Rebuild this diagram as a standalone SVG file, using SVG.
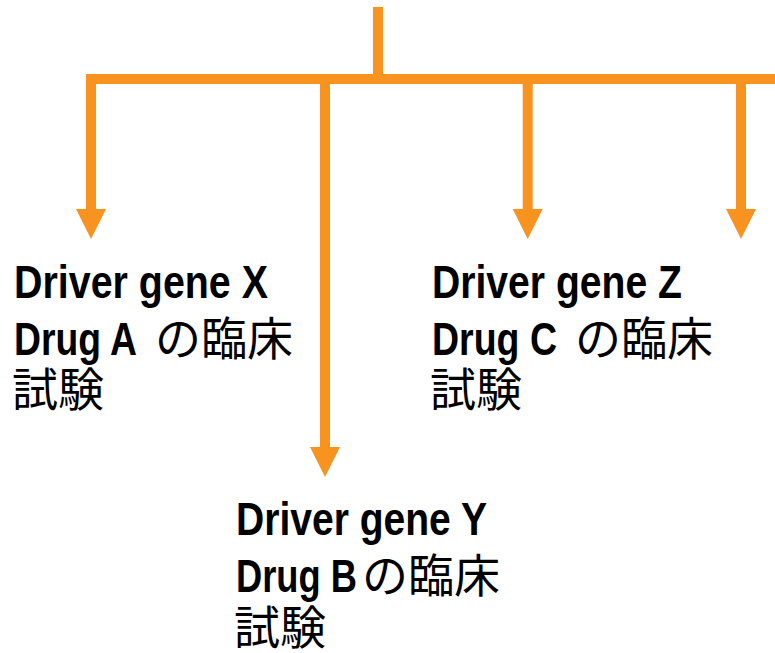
<svg xmlns="http://www.w3.org/2000/svg" width="775" height="653" viewBox="0 0 775 653">
<defs>
<style>
.conn{stroke:#F7931E;stroke-width:10;fill:none;stroke-linecap:butt}
.lat{font-family:"Liberation Sans","Arial",sans-serif;font-weight:bold;font-size:47px;fill:#000}
.cjk{font-family:"Noto Sans CJK JP","Noto Sans CJK SC",sans-serif;font-weight:normal;font-size:46px;fill:#000}
</style>
<marker id="ah" viewBox="0 0 30 30" markerWidth="30" markerHeight="30" refX="0" refY="15" orient="auto" markerUnits="userSpaceOnUse">
<path d="M0,0 L30,15 L0,30 Z" fill="#F7931E"/>
</marker>
</defs>
<rect width="775" height="653" fill="#fff"/>
<g id="connectors">
<path class="conn" d="M378,7 V79"/>
<path class="conn" d="M86,79 H775"/>
<path class="conn" d="M91,79 V209" marker-end="url(#ah)"/>
<path class="conn" d="M325,84 V447" marker-end="url(#ah)"/>
<path class="conn" d="M527.7,84 V209" marker-end="url(#ah)"/>
<path class="conn" d="M741,84 V209" marker-end="url(#ah)"/>
</g>
<g id="node-x">
<text class="lat" x="14" y="298" textLength="254" lengthAdjust="spacingAndGlyphs">Driver gene X</text>
<text class="lat" x="14" y="355" textLength="123" lengthAdjust="spacingAndGlyphs">Drug A</text>
<text class="cjk" x="155" y="355">の臨床</text>
<text class="cjk" x="12" y="406">試験</text>
</g>
<g id="node-z">
<text class="lat" x="432" y="298" textLength="250" lengthAdjust="spacingAndGlyphs">Driver gene Z</text>
<text class="lat" x="432" y="355" textLength="125" lengthAdjust="spacingAndGlyphs">Drug C</text>
<text class="cjk" x="575" y="355">の臨床</text>
<text class="cjk" x="430" y="406">試験</text>
</g>
<g id="node-y">
<text class="lat" x="236" y="535" textLength="251" lengthAdjust="spacingAndGlyphs">Driver gene Y</text>
<text class="lat" x="236" y="592" textLength="121" lengthAdjust="spacingAndGlyphs">Drug B</text>
<text class="cjk" x="362" y="592">の臨床</text>
<text class="cjk" x="234" y="644">試験</text>
</g>
</svg>
